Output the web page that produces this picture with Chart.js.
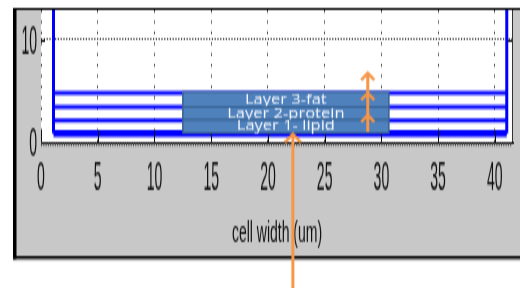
<!DOCTYPE html>
<html>
<head>
<meta charset="utf-8">
<script src="https://cdn.jsdelivr.net/npm/chart.js@4.4.0/dist/chart.umd.min.js"></script>
<style>
  html, body { margin: 0; padding: 0; background: #fff; overflow: hidden; }
</style>
</head>
<body>
<canvas id="plot" width="520" height="144" style="display:block;width:520px;height:288px"></canvas>
<script>
// the original matlab figure was squashed, so the canvas is drawn at half
// height and stretched back to 288px by css
const SQUASH = 2;
// tick numbers were squeezed even more than the rest
const TICK_STRETCH = 1.5;

// axes
const xTicks = [0, 5, 10, 15, 20, 25, 30, 35, 40];
const yTicks = [0, 10];
const xRange = [0, 41.6];
const yRange = [0, 12.85];
const xTitle = "cell width (um)";

// cell walls (x, um) and the layer boundaries (y)
const wallX = [1.1, 41.05];
const wallTop = 13.5;
const layerY = [4.77, 3.41, 2.09];
const baseY = 0.83;

// labelled boxes laid over the layers
const boxLabels = ["Layer 3-fat", "Layer 2-protein", "Layer 1- lipid"];
const boxEdges = [4.87, 3.41, 2.14, 0.88];
const boxX = [12.5, 30.66];

// orange arrows: x, tail y, arrow head ys
const arrowStack = { x: 28.8, from: 0.97, heads: [6.72, 4.77, 2.63], size: 6.5 };
const arrowBottom = { x: 22.2, from: -16, heads: [0.78], size: 8 };

const BLUE = "#0000ff";
const ORANGE = "#f79646";
const SANS = "'Liberation Sans', Arial, sans-serif";

function segment(p, q, width) {
    return { data: [p, q], borderColor: BLUE, borderWidth: width, pointRadius: 0, showLine: true, fill: false };
}

const datasets = [];
layerY.forEach((y) => datasets.push(segment({ x: wallX[0], y }, { x: wallX[1], y }, 1.8)));
datasets.push(segment({ x: wallX[0], y: baseY }, { x: wallX[1], y: baseY }, 3.5));
wallX.forEach((x) => datasets.push(segment({ x, y: baseY }, { x, y: wallTop }, 3)));

function drawArrow(ctx, chart, a) {
    const { x, y } = chart.scales;
    const px = x.getPixelForValue(a.x);
    const tail = y.getPixelForValue(a.from) * SQUASH;
    const tips = a.heads.map((v) => y.getPixelForValue(v) * SQUASH);
    ctx.beginPath();
    ctx.moveTo(px, tail);
    ctx.lineTo(px, Math.min(...tips));
    tips.forEach((t) => {
        ctx.moveTo(px - a.size, t + a.size * 1.05);
        ctx.lineTo(px, t);
        ctx.lineTo(px + a.size, t + a.size * 1.05);
    });
    ctx.stroke();
}

function stretchedText(ctx, text, px, py, align, sx, sy) {
    ctx.save();
    ctx.translate(px, py);
    ctx.scale(sx, sy);
    ctx.textAlign = align;
    ctx.textBaseline = "middle";
    ctx.fillText(text, 0, 0);
    ctx.restore();
}

const figure = {
    id: "figure",
    beforeDraw(chart) {
        const { ctx, chartArea: a, width, height } = chart;
        ctx.save();
        ctx.fillStyle = "#fff";
        ctx.fillRect(0, 0, width, height);
        ctx.fillStyle = "#c8c8c8";
        ctx.fillRect(14, 4, width, 125);
        ctx.fillStyle = "#fff";
        ctx.fillRect(a.left, a.top, a.right - a.left, a.bottom - a.top);
        ctx.restore();
    },
    afterDatasetsDraw(chart) {
        const { ctx, chartArea: a, scales: { x, y } } = chart;
        ctx.save();
        ctx.strokeStyle = "#111";
        ctx.lineWidth = 1;
        ctx.beginPath();
        // inward major ticks
        xTicks.forEach((v) => {
            const px = Math.round(x.getPixelForValue(v)) + 0.5;
            ctx.moveTo(px, a.bottom);
            ctx.lineTo(px, a.bottom - 6);
        });
        yTicks.slice(1).forEach((v) => {
            const py = Math.round(y.getPixelForValue(v)) + 0.5;
            ctx.moveTo(a.left, py);
            ctx.lineTo(a.left + 4, py);
            ctx.moveTo(a.right, py);
            ctx.lineTo(a.right - 5, py);
        });
        ctx.stroke();
        // minor ticks under the axis
        ctx.strokeStyle = "#444";
        ctx.beginPath();
        for (let px = a.left + 0.5; px < a.right; px += 2.3) {
            ctx.moveTo(px, a.bottom);
            ctx.lineTo(px, a.bottom + 2.2);
        }
        ctx.stroke();
        // right edge of the axes box
        ctx.strokeStyle = "#333";
        ctx.beginPath();
        ctx.moveTo(a.right - 0.5, a.top);
        ctx.lineTo(a.right - 0.5, a.bottom);
        ctx.stroke();
        ctx.restore();
    },
    afterDraw(chart) {
        const { ctx, width, chartArea: a, scales: { x, y } } = chart;
        ctx.save();
        // tick numbers, tall and narrow like the original
        ctx.fillStyle = "#111";
        ctx.font = "14px " + SANS;
        x.ticks.forEach((t) => stretchedText(ctx, String(t.value), x.getPixelForValue(t.value), a.bottom + 18, "center", 1, TICK_STRETCH));
        y.ticks.forEach((t) => stretchedText(ctx, String(t.value), a.left - 4, y.getPixelForValue(t.value) + 1.5, "right", 1, TICK_STRETCH));

        // figure frame
        ctx.fillStyle = "#d8d8d8";
        ctx.fillRect(13, 129.5, width, 1);
        ctx.fillStyle = "#000";
        ctx.fillRect(13, 4, 3.5, 125.5);
        ctx.fillRect(13, 4, width, 1);
        ctx.fillRect(13, 128, width, 1.5);

        // annotations are drawn in unsquashed space
        ctx.scale(1, 1 / SQUASH);
        const x0 = x.getPixelForValue(boxX[0]);
        const x1 = x.getPixelForValue(boxX[1]);
        boxLabels.forEach((label, i) => {
            const top = y.getPixelForValue(boxEdges[i]) * SQUASH;
            const bot = y.getPixelForValue(boxEdges[i + 1]) * SQUASH;
            ctx.fillStyle = "#4f81bd";
            ctx.fillRect(x0, top, x1 - x0, bot - top);
            ctx.strokeStyle = "#37618f";
            ctx.lineWidth = 1.5;
            ctx.strokeRect(x0, top, x1 - x0, bot - top);
            ctx.fillStyle = "#f4f7fc";
            ctx.font = "500 14px 'Open Sans', sans-serif";
            stretchedText(ctx, label, (x0 + x1) / 2, (top + bot) / 2 + 0.5, "center", 1.18, 1);
        });
        ctx.strokeStyle = ORANGE;
        ctx.lineWidth = 3;
        ctx.lineJoin = "miter";
        drawArrow(ctx, chart, arrowStack);
        drawArrow(ctx, chart, arrowBottom);
        ctx.restore();
    }
};

new Chart(document.getElementById("plot"), {
    type: "scatter",
    data: { datasets },
    plugins: [figure],
    options: {
        responsive: false,
        devicePixelRatio: 1,
        animation: false,
        layout: { padding: { top: 5, right: 7, left: 0, bottom: 0 } },
        plugins: { legend: { display: false }, tooltip: { enabled: false } },
        scales: {
            x: {
                type: "linear",
                min: xRange[0],
                max: xRange[1],
                afterBuildTicks: (s) => { s.ticks = xTicks.map((v) => ({ value: v })); },
                afterFit: (s) => { s.height = 73; },
                grid: { color: "#333", lineWidth: 1, drawTicks: false },
                border: { display: true, color: "#111", width: 1, dash: [1.3, 4.1] },
                ticks: { display: false },
                title: { display: true, text: xTitle, font: { family: SANS, size: 14 }, color: "#111", padding: { top: 0, bottom: 18 } }
            },
            y: {
                type: "linear",
                min: yRange[0],
                max: yRange[1],
                afterBuildTicks: (s) => { s.ticks = yTicks.map((v) => ({ value: v })); },
                afterFit: (s) => { s.width = 41; },
                grid: { color: "#333", lineWidth: 1, drawTicks: false },
                border: { display: false, dash: [1.2, 1.6] },
                ticks: { display: false }
            }
        }
    }
});
</script>
</body>
</html>
